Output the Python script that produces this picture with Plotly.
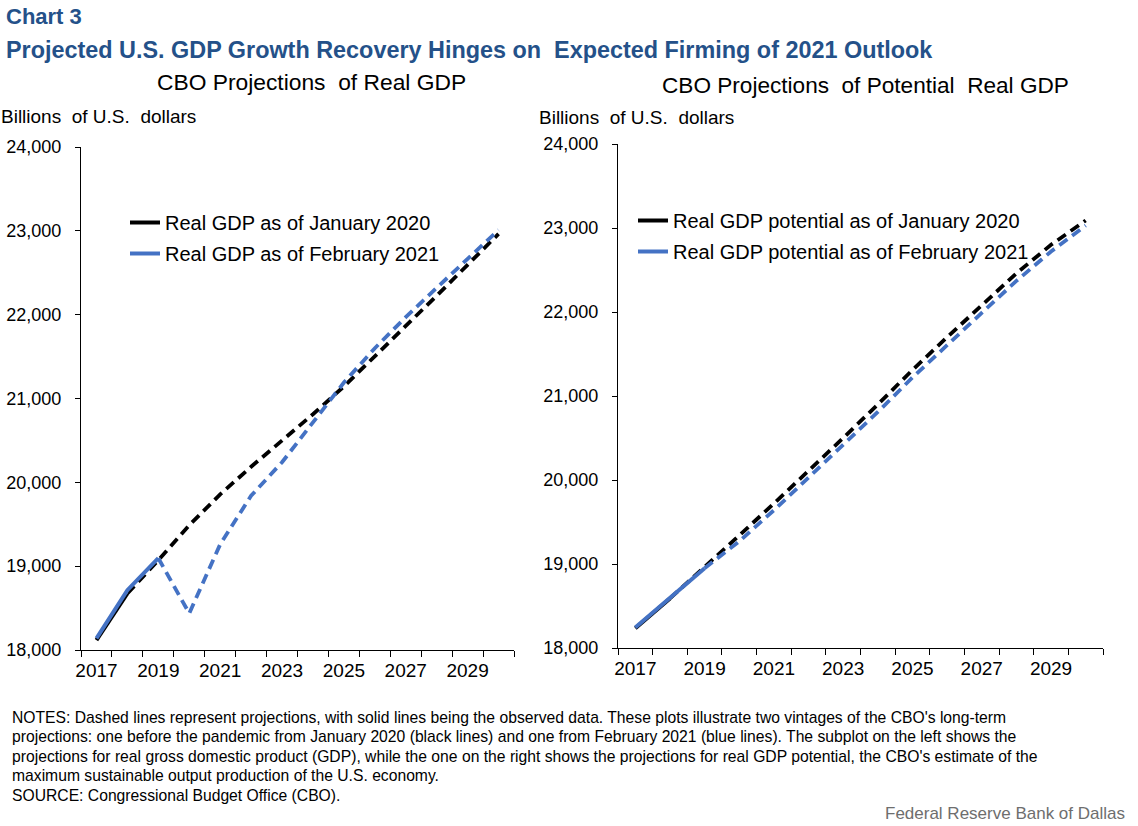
import plotly.graph_objects as go

# ---------------- data ----------------
years = [2017, 2018, 2019, 2020, 2021, 2022, 2023, 2024, 2025, 2026, 2027, 2028, 2029, 2030]
tick_years = [2017, 2019, 2021, 2023, 2025, 2027, 2029]
y_ticks = [18000, 19000, 20000, 21000, 22000, 23000, 24000]

# Real GDP, billions of U.S. dollars
gdp_jan2020 = [18119, 18675, 19071, 19488, 19857, 20186, 20500, 20812, 21143, 21501, 21857, 22226, 22595, 22964]
gdp_feb2021 = [18139, 18714, 19095, 18437, 19260, 19840, 20240, 20720, 21190, 21600, 21970, 22320, 22660, 23010]

# Potential real GDP, billions of U.S. dollars
pot_jan2020 = [18235, 18590, 18960, 19340, 19720, 20105, 20500, 20900, 21310, 21700, 22080, 22460, 22800, 23090]
pot_feb2021 = [18245, 18600, 18950, 19270, 19640, 20025, 20410, 20810, 21220, 21610, 21990, 22370, 22720, 23030]

last_obs_jan2020 = 2018   # observed (solid) through this year
last_obs_feb2021 = 2019

names_left = ["Real GDP as of January 2020", "Real GDP as of February 2021"]
names_right = ["Real GDP potential as of January 2020", "Real GDP potential as of February 2021"]

notes_lines = [
    "NOTES: Dashed lines represent projections, with solid lines being the observed data. "
    "These plots illustrate two vintages of the CBO's long-term",
    "projections: one before the pandemic from January 2020 (black lines) and one from "
    "February 2021 (blue lines). The subplot on the left shows the",
    "projections for real gross domestic product (GDP), while the one on the right shows "
    "the projections for real GDP potential, the CBO's estimate of the",
    "maximum sustainable output production of the U.S. economy.",
    "SOURCE: Congressional Budget Office (CBO).",
]

BLACK = "#000000"
BLUE = "#4472C4"
TITLE_BLUE = "#245189"
FONT = "Liberation Sans, Arial, sans-serif"
NB = "\u00a0"

W, H = 1138, 826


def px_x(x):
    return x / W


def px_y(y):
    return 1 - y / H


fig = go.Figure()


def add_series(xs, ys, last_obs, color, name, xaxis, yaxis, legend, group):
    k = xs.index(last_obs)
    fig.add_trace(go.Scatter(
        x=xs[:k + 1], y=ys[:k + 1], mode="lines", name=name,
        line=dict(color=color, width=4), xaxis=xaxis, yaxis=yaxis,
        legend=legend, legendgroup=group, showlegend=True, hoverinfo="skip"))
    fig.add_trace(go.Scatter(
        x=xs[k:], y=ys[k:], mode="lines", name=name,
        line=dict(color=color, width=3.8, dash="10px,6px"), xaxis=xaxis, yaxis=yaxis,
        legend=legend, legendgroup=group, showlegend=False, hoverinfo="skip"))


add_series(years, gdp_jan2020, last_obs_jan2020, BLACK, names_left[0], "x", "y", "legend", "a")
add_series(years, gdp_feb2021, last_obs_feb2021, BLUE, names_left[1], "x", "y", "legend", "b")
add_series(years, pot_jan2020, last_obs_jan2020, BLACK, names_right[0], "x2", "y2", "legend2", "c")
add_series(years, pot_feb2021, last_obs_feb2021, BLUE, names_right[1], "x2", "y2", "legend2", "d")

half_ticks = [y - 0.5 for y in years] + [years[-1] + 0.5]

xaxis_common = dict(
    range=[years[0] - 0.5, years[-1] + 0.5],
    tickmode="array", tickvals=tick_years, ticktext=[str(t) for t in tick_years],
    ticks="", showline=True, linecolor="black", linewidth=1.3,
    showgrid=False, zeroline=False, fixedrange=True,
    tickfont=dict(size=19, color="black", family=FONT),
    ticklabelstandoff=3,
    minor=dict(tickmode="array", tickvals=half_ticks, ticks="outside", ticklen=6,
               tickwidth=1.3, tickcolor="black", showgrid=False),
)
yaxis_common = dict(
    range=[y_ticks[0], y_ticks[-1]],
    tickmode="array", tickvals=y_ticks, ticktext=[f"{v:,}" for v in y_ticks],
    ticks="outside", ticklen=5, tickwidth=1.3, tickcolor="black",
    showline=True, linecolor="black", linewidth=1.3,
    showgrid=False, zeroline=False, fixedrange=True,
    tickfont=dict(size=18, color="black", family=FONT),
    ticklabelstandoff=10,
)

legend_common = dict(xanchor="left", yanchor="top", bgcolor="rgba(0,0,0,0)",
                     font=dict(size=20, family=FONT, color="black"),
                     traceorder="grouped", tracegroupgap=2, itemwidth=30)

fig.update_layout(
    width=W, height=H, autosize=False,
    margin=dict(l=0, r=0, t=0, b=0, pad=0, autoexpand=False),
    paper_bgcolor="white", plot_bgcolor="white",
    font=dict(family=FONT, color="black"),
    xaxis=dict(domain=[px_x(81), px_x(514)], anchor="y", **xaxis_common),
    yaxis=dict(domain=[px_y(650), px_y(147)], anchor="x", **yaxis_common),
    xaxis2=dict(domain=[px_x(618), px_x(1103)], anchor="y2", **xaxis_common),
    yaxis2=dict(domain=[px_y(648), px_y(144)], anchor="x2", **yaxis_common),
    legend=dict(x=px_x(125), y=px_y(203), **legend_common),
    legend2=dict(x=px_x(633), y=px_y(201), **legend_common),
    showlegend=True,
)

annotations = [
    dict(text="<b>Chart 3</b>", x=px_x(4), y=px_y(17), xanchor="left", yanchor="middle",
         font=dict(size=22, color=TITLE_BLUE, family=FONT)),
    dict(text="<b>Projected U.S. GDP Growth Recovery Hinges on" + NB + " Expected Firming of 2021 Outlook</b>",
         x=px_x(4), y=px_y(50), xanchor="left", yanchor="middle",
         font=dict(size=23.4, color=TITLE_BLUE, family=FONT)),
    dict(text="CBO Projections" + NB + " of Real GDP", x=px_x(311), y=px_y(82), xanchor="center",
         yanchor="middle", font=dict(size=22.8, color="black", family=FONT)),
    dict(text="CBO Projections" + NB + " of Potential" + NB + " Real GDP", x=px_x(866), y=px_y(86),
         xanchor="center", yanchor="middle", font=dict(size=22.6, color="black", family=FONT)),
    dict(text="Billions" + NB + " of U.S." + NB + " dollars", x=px_x(-1), y=px_y(116), xanchor="left",
         yanchor="middle", font=dict(size=19, color="black", family=FONT)),
    dict(text="Billions" + NB + " of U.S." + NB + " dollars", x=px_x(537), y=px_y(117), xanchor="left",
         yanchor="middle", font=dict(size=19, color="black", family=FONT)),
    dict(text="Federal Reserve Bank of Dallas", x=px_x(1127), y=px_y(813), xanchor="right",
         yanchor="middle", font=dict(size=17, color="#6e6e6e", family=FONT)),
]
for i, line in enumerate(notes_lines):
    annotations.append(dict(text=line, x=px_x(10), y=px_y(717 + 19.5 * i), xanchor="left",
                            yanchor="middle", align="left",
                            font=dict(size=15.7, color="black", family=FONT)))
for a in annotations:
    a.update(xref="paper", yref="paper", showarrow=False)
fig.update_layout(annotations=annotations)

fig.write_html("out.html",
               config={"displayModeBar": False},
               post_script="document.body.style.margin='0';document.body.style.padding='0';")
